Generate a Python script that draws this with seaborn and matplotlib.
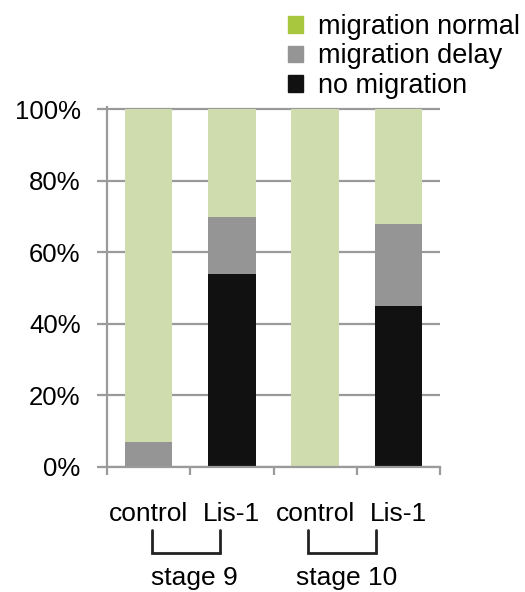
import matplotlib
matplotlib.use("Agg")
import matplotlib.pyplot as plt
from matplotlib.patches import Patch
from matplotlib.ticker import FixedLocator, PercentFormatter
import numpy as np
import pandas as pd
import seaborn as sns

# Share of embryos in each migration class (percent)
conditions = ["control", "Lis-1", "control", "Lis-1"]
stages = ["stage 9", "stage 10"]
no_migration = [0, 54, 0, 45]
migration_delay = [7, 16, 0, 23]
migration_normal = [93, 30, 100, 32]
series_labels = ["migration normal", "migration delay", "no migration"]
yticks = [0, 20, 40, 60, 80, 100]

bar_green = "#cfdcae"
bar_gray = "#959595"
bar_black = "#111111"
legend_green = "#a9c63f"
axis_gray = "#9a9a9a"

sns.set_theme(style="white")
plt.rcParams["font.family"] = ["Liberation Sans", "DejaVu Sans"]

fig = plt.figure(figsize=(5.25, 5.92), dpi=100)
ax = fig.add_axes([107 / 525, 125 / 592, 333 / 525, 360 / 592])

df = pd.DataFrame({
    "pos": np.arange(len(conditions)),
    "none": no_migration,
    "delay": migration_delay,
    "normal": migration_normal,
})
df["top_delay"] = df["none"] + df["delay"]
df["top_normal"] = df["top_delay"] + df["normal"]

width = 0.57
sns.barplot(data=df, x="pos", y="top_normal", color=bar_green, width=width,
            saturation=1, ax=ax, linewidth=0)
sns.barplot(data=df, x="pos", y="top_delay", color=bar_gray, width=width,
            saturation=1, ax=ax, linewidth=0)
sns.barplot(data=df, x="pos", y="none", color=bar_black, width=width,
            saturation=1, ax=ax, linewidth=0)

ax.set_xlim(-0.5, len(conditions) - 0.5)
ax.set_ylim(0, 100.6)
ax.set_xlabel("")
ax.set_ylabel("")

# y axis: percent labels with gridlines
ax.set_yticks(yticks)
ax.yaxis.set_major_formatter(PercentFormatter(decimals=0))
ax.set_axisbelow(True)
ax.grid(axis="y", color=axis_gray, linewidth=1.6)
ax.grid(axis="x", visible=False)
ax.tick_params(axis="y", which="major", left=True, length=7, width=1.6,
               color=axis_gray, labelsize=18.5, pad=12, labelcolor="black")

# x axis: labels under bars, ticks between bars
ax.set_xticks(np.arange(len(conditions)))
ax.set_xticklabels(conditions)
ax.tick_params(axis="x", which="major", bottom=False, length=0,
               labelsize=19, pad=25, labelcolor="black")
ax.xaxis.set_minor_locator(FixedLocator(np.arange(len(conditions) + 1) - 0.5))
ax.tick_params(axis="x", which="minor", bottom=True, length=6, width=1.6,
               color=axis_gray)

for side in ["top", "right"]:
    ax.spines[side].set_visible(False)
for side in ["left", "bottom"]:
    ax.spines[side].set_color(axis_gray)
    ax.spines[side].set_linewidth(1.6)

# stage brackets below the condition labels
trans = ax.get_xaxis_transform()
brackets = [(0.037, 0.857), (1.918, 2.73)]
stage_centers = [0.551, 2.38]
for (x0, x1), xc, name in zip(brackets, stage_centers, stages):
    ax.plot([x0, x0, x1, x1], [-0.175, -0.239, -0.239, -0.175],
            color="#222222", linewidth=2.0, transform=trans, clip_on=False,
            solid_joinstyle="miter")
    ax.text(xc, -0.308, name, transform=trans, ha="center", va="center",
            fontsize=19, color="black")

handles = [Patch(color=legend_green), Patch(color=bar_gray), Patch(color=bar_black)]
fig.legend(handles, series_labels, loc="upper left",
           bbox_to_anchor=(269 / 525, 1 + 5 / 592), frameon=False,
           fontsize=19.5, handlelength=0.55, handleheight=0.55,
           handletextpad=0.55, labelspacing=0.13, borderpad=0.2,
           labelcolor="black")

fig.savefig("out.png", dpi=100, facecolor="white")
